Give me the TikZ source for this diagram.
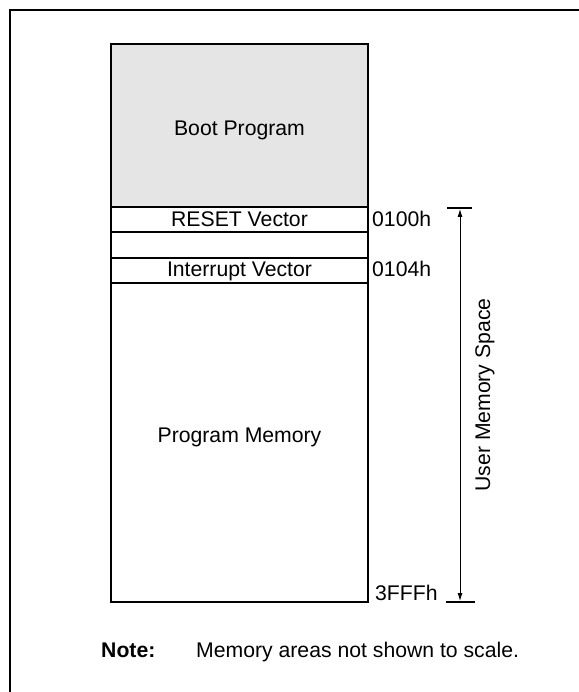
\documentclass[tikz,border=0pt]{standalone}
\usepackage{fontspec}
\setmainfont{Liberation Sans}
\usetikzlibrary{arrows.meta}
\definecolor{bootgray}{RGB}{229,229,229}
\tikzset{
  memblock/.style={draw=black, line width=2pt, anchor=north west, minimum width=257pt, inner sep=0pt, outer sep=0pt},
  lbl/.style={anchor=base, inner sep=0pt},
  addr/.style={anchor=base west, inner sep=0pt},
  frameline/.style={line width=2.2pt},
  tick/.style={line width=2pt},
  span/.style={line width=0.9pt, {Latex[length=8pt,width=5pt]}-{Latex[length=8pt,width=5pt]}},
}
\begin{document}
\begin{tikzpicture}[x=1pt,y=-1pt, font=\fontsize{21.2}{25}\selectfont]
\useasboundingbox (0,0) rectangle (578,692);
\draw[frameline] (579,10) -- (10,10) -- (10,693);
\node[memblock, fill=bootgray, minimum height=163pt] (boot) at (111,44) {};
\node[memblock, minimum height=25pt] (reset) at (111,207) {};
\node[memblock, minimum height=26pt] (gap) at (111,232) {};
\node[memblock, minimum height=25pt] (intr) at (111,258) {};
\node[memblock, minimum height=319pt] (prog) at (111,283) {};
\node[lbl] (tboot) at (239.5,136) {Boot Program};
\node[lbl] (treset) at (239.5,226.5) {RESET Vector};
\node[lbl] (tintr) at (239.5,276.5) {Interrupt Vector};
\node[lbl] (tprog) at (239.5,442) {Program Memory};
\node[addr] (a100) at (372,226.5) {0100h};
\node[addr] (a104) at (372,276.5) {0104h};
\node[addr] (a3ff) at (375,600) {3FFFh};
\coordinate (ttl) at (447,208);
\coordinate (ttr) at (472,208);
\coordinate (tbl) at (446,602);
\coordinate (tbr) at (475,602);
\draw[tick] (ttl) -- (ttr);
\draw[tick] (tbl) -- (tbr);
\coordinate (atop) at (460,209);
\coordinate (abot) at (460,601);
\draw[span] (atop) -- (abot);
\node[rotate=90] (ums) at (485,395) {User Memory Space};
\node[anchor=base west, inner sep=0pt, font=\fontsize{21.2}{25}\selectfont\bfseries] (note) at (101,657) {Note:};
\node[anchor=base west, inner sep=0pt] (notetxt) at (196,657) {Memory areas not shown to scale.};
\end{tikzpicture}
\end{document}
